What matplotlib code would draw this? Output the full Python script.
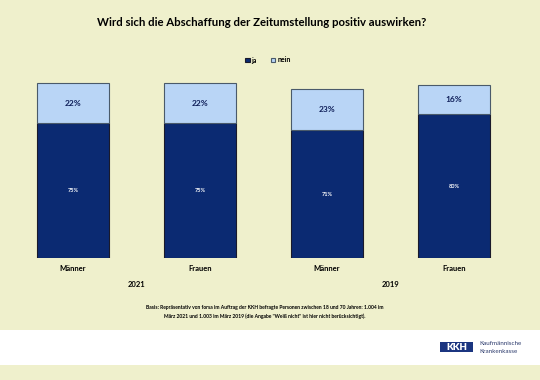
import matplotlib
matplotlib.use("Agg")
import matplotlib.pyplot as plt
from matplotlib.patches import Rectangle

categories = ["Männer", "Frauen", "Männer", "Frauen"]
years = ["2021", "2019"]
ja = [75, 75, 71, 80]
nein = [22, 22, 23, 16]
series_names = ["ja", "nein"]

plt.rcParams['font.family'] = ['Lato', 'DejaVu Sans']

W, H = 540, 380
BG = "#EFF0CC"
DARK = "#0B2A72"
LIGHT = "#B9D5F6"

fig = plt.figure(figsize=(W/100, H/100), dpi=100, facecolor=BG)

def fx(px):
    return px / W

def fy(py):
    return 1 - py / H

# white band with logo
fig.patches.append(Rectangle((0, fy(365)), 1, (365-330)/H, transform=fig.transFigure,
                             facecolor="white", edgecolor="none", zorder=0))

# axes: bar centers at ~73,200,327,454 px; bottom at 258 px, 100% = 180 px
ax = fig.add_axes([fx(9.5), fy(258), 508/W, 180/H])
ax.set_facecolor("none")
x = list(range(len(categories)))
ax.bar(x, ja, width=0.56, color=DARK, edgecolor="#1a1a2a", linewidth=0.8, label=series_names[0])
ax.bar(x, nein, width=0.56, bottom=ja, color=LIGHT, edgecolor="#4a5a6a", linewidth=0.8, label=series_names[1])
ax.set_xlim(-0.5, 3.5)
ax.set_ylim(0, 100)
ax.axis("off")

for i in x:
    ax.text(i, ja[i] / 2, f"{ja[i]}%", ha="center", va="center", color="white",
            fontsize=4, fontweight="bold")
    ax.text(i, ja[i] + nein[i] / 2, f"{nein[i]}%", ha="center", va="center", color="#10205a",
            fontsize=6, fontweight="bold")
    ax.text(i, -6, categories[i], ha="center", va="center", color="black",
            fontsize=5.5, fontweight="bold")

for j, yr in enumerate(years):
    ax.text(2 * j + 0.5, -14.5, yr, ha="center", va="center", color="black",
            fontsize=5.5, fontweight="bold")

# title
fig.text(fx(262), fy(22), "Wird sich die Abschaffung der Zeitumstellung positiv auswirken?",
         ha="center", va="center", fontsize=8.2, fontweight="bold", color="black")

# legend
leg = fig.legend(loc="center", bbox_to_anchor=(fx(268), fy(60)), ncol=2, frameon=False,
                 handlelength=0.6, handleheight=0.6, columnspacing=2.0,
                 handletextpad=0.3, prop={'weight': 'bold', 'size': 5})

# footnote
fig.text(fx(265), fy(307),
         "Basis: Repräsentativ von forsa im Auftrag der KKH befragte Personen zwischen 18 und 70 Jahren: 1.004 im",
         ha="center", va="center", fontsize=3.6, fontweight="bold", color="black")
fig.text(fx(265), fy(316),
         "März 2021 und 1.003 im März 2019 (die Angabe \"Weiß nicht\" ist hier nicht berücksichtigt).",
         ha="center", va="center", fontsize=3.6, fontweight="bold", color="black")

# logo
fig.patches.append(Rectangle((fx(440), fy(352)), 33/W, 10/H, transform=fig.transFigure,
                             facecolor="#1B3580", edgecolor="none", zorder=1))
fig.text(fx(456.5), fy(347), "KKH", ha="center", va="center", fontsize=7,
         fontweight="heavy", color="white", zorder=2)
fig.text(fx(479), fy(343.5), "Kaufmännische", ha="left", va="center", fontsize=4.5, color="#2B3A6C")
fig.text(fx(479), fy(351.5), "Krankenkasse", ha="left", va="center", fontsize=4.5, color="#2B3A6C")

fig.savefig("out.png", dpi=100, facecolor=BG)
